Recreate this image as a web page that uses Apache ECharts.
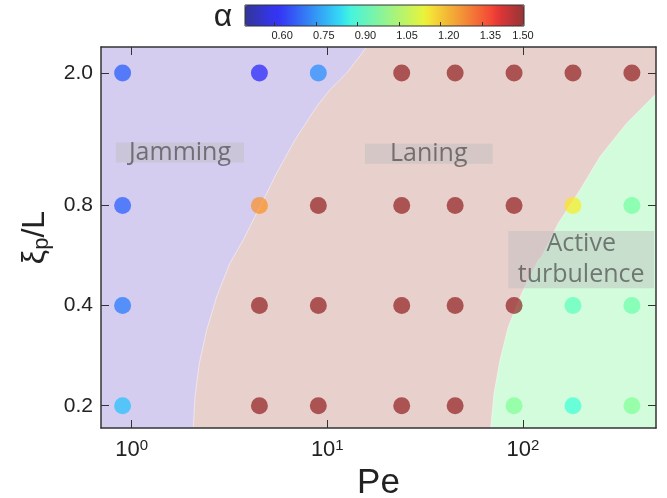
<!DOCTYPE html>
<html><head><meta charset="utf-8">
<script src="https://cdn.jsdelivr.net/npm/echarts@6/dist/echarts.min.js"></script>
<style>html,body{margin:0;padding:0;background:#fff}#c{width:667px;height:498px}</style>
</head><body><div id="c"></div>
<script>
// ---- data ----
const peValues = [0.9, 4.5, 9, 24, 45, 90, 180, 360];
const xiValues = [2.0, 0.8, 0.4, 0.2];
const alphaXi20 = [0.685, 0.61, 0.745, 1.5, 1.5, 1.5, 1.5, 1.5];
const alphaXi08 = [0.69, 1.27, 1.5, 1.5, 1.5, 1.5, 1.16, 0.965];
const alphaXi04 = [0.72, 1.5, 1.5, 1.5, 1.5, 1.5, 0.927, 0.952];
const alphaXi02 = [0.81, 1.5, 1.5, 1.5, 1.5, 0.982, 0.887, 0.982];
const alphaRows = [alphaXi20, alphaXi08, alphaXi04, alphaXi02];

// phase boundaries [Pe, xi_p/L]
const jammingBoundary = [[15.9, 2.395], [12.57, 2.0], [10.32, 1.782], [8.83, 1.587], [6.84, 1.259], [5.51, 1.0], [4.53, 0.793], [3.72, 0.630], [3.18, 0.536], [2.72, 0.425], [2.42, 0.3375], [2.218, 0.268], [2.109, 0.2126], [2.067, 0.1714]];
const turbulenceBoundary = [[478, 1.733], [338.8, 1.414], [247.5, 1.122], [195.6, 0.8906], [151.5, 0.707], [124.6, 0.561], [119.7, 0.548], [98.5, 0.4352], [84.1, 0.3452], [76.3, 0.2742], [71.1, 0.2177], [68.4, 0.1714]];

// region label boxes [Pe1, xi1, Pe2, xi2, text]
const regionLabels = [
  [0.832, 1.236, 3.752, 1.076, 'Jamming'],
  [15.58, 1.225, 69.9, 1.067, 'Laning'],
  [84.1, 0.6705, 467, 0.4506, 'Active\nturbulence']
];

const peRange = [0.698, 478];
const xiRange = [0.1714, 2.395];
const alphaRange = [0.495, 1.5];
const xTicks = [1, 10, 100];
const yTicks = [0.2, 0.4, 0.8, 2.0];
const cbTicks = [0.60, 0.75, 0.90, 1.05, 1.20, 1.35, 1.50];

// ---- jet colormap ----
function jetRGB(t) {
  const f = (pts) => { for (let i = 0; i < pts.length - 1; i++) { const [x0, y0] = pts[i], [x1, y1] = pts[i + 1]; if (t <= x1) return y0 + (y1 - y0) * (t - x0) / (x1 - x0); } return pts[pts.length - 1][1]; };
  return [f([[0,0],[0.35,0],[0.66,1],[0.89,1],[1,0.5]]), f([[0,0],[0.125,0],[0.375,1],[0.64,1],[0.91,0],[1,0]]), f([[0,0.5],[0.11,1],[0.34,1],[0.65,0],[1,0]])];
}
const jetColors = [];
for (let i = 0; i <= 50; i++) { const c = jetRGB(i / 50).map(v => Math.round(v * 255)); jetColors.push(`rgba(${c[0]},${c[1]},${c[2]},0.75)`); }

const scatterData = [];
alphaRows.forEach((row, i) => row.forEach((a, j) => scatterData.push([peValues[j], xiValues[i], a])));

const FONT = '"Liberation Sans", Arial, sans-serif';
const LFONT = '"Open Sans", sans-serif';
const axisColor = '#333';

const chart = echarts.init(document.getElementById('c'), null, {renderer: 'canvas'});
const baseAxis = {
  type: 'log', splitLine: {show: false}, minorTick: {show: false}, minorSplitLine: {show: false},
  axisLine: {show: true, lineStyle: {color: axisColor, width: 1.5}}, z: 10
};
chart.setOption({
  animation: false,
  backgroundColor: '#fff',
  grid: [
    {left: 101, right: 11, top: 47, bottom: 70, show: true, backgroundColor: '#e8d0cc', borderWidth: 0, containLabel: false, outerBoundsMode: 'none'},
    {left: 245, width: 279, top: 5, height: 21, show: true, backgroundColor: 'transparent', borderColor: '#333', borderWidth: 1, z: 10, containLabel: false, outerBoundsMode: 'none'}
  ],
  xAxis: [
    Object.assign({}, baseAxis, {
      gridIndex: 0, position: 'bottom', min: peRange[0], max: peRange[1],
      axisTick: {show: true, inside: true, length: 8, customValues: xTicks, lineStyle: {color: axisColor}},
      axisLabel: {customValues: xTicks, margin: 10, formatter: v => '{b|10}{s|' + Math.round(Math.log10(v)) + '}',
        rich: {b: {fontSize: 22, fontFamily: FONT, color: '#222', lineHeight: 24}, s: {fontSize: 15, fontFamily: FONT, color: '#222', lineHeight: 14, verticalAlign: 'top'}}},
      name: 'Pe', nameLocation: 'middle', nameGap: 36, nameTextStyle: {fontSize: 35, fontFamily: FONT, color: '#222'}
    }),
    Object.assign({}, baseAxis, {
      gridIndex: 0, position: 'top', min: peRange[0], max: peRange[1],
      axisTick: {show: true, inside: true, length: 8, customValues: xTicks, lineStyle: {color: axisColor}},
      axisLabel: {show: false}
    }),
    {
      gridIndex: 1, type: 'value', min: alphaRange[0], max: alphaRange[1], position: 'bottom', z: 12,
      splitLine: {show: false}, axisLine: {show: false},
      axisTick: {show: true, inside: true, length: 4, customValues: cbTicks.slice(0, 6), lineStyle: {color: '#333'}},
      axisLabel: {customValues: cbTicks, margin: 4, color: '#222',
        formatter: v => (v >= 1.5 ? '{e|' : '{s|') + v.toFixed(2) + '}',
        rich: {s: {fontSize: 11, fontFamily: FONT, color: '#222', padding: [0, 0, 0, 16]}, e: {fontSize: 11, fontFamily: FONT, color: '#222', padding: [0, 2, 0, 0]}}}
    }
  ],
  yAxis: [
    Object.assign({}, baseAxis, {
      gridIndex: 0, position: 'left', min: xiRange[0], max: xiRange[1],
      axisTick: {show: true, inside: true, length: 8, customValues: yTicks, lineStyle: {color: axisColor}},
      axisLabel: {customValues: yTicks, margin: 8, fontSize: 21, fontFamily: FONT, color: '#222', formatter: v => v.toFixed(1)},
      name: '{a|ξ}{b|p}{a|/L}', nameLocation: 'middle', nameRotate: 90, nameGap: 38,
      nameTextStyle: {rich: {a: {fontSize: 32, fontFamily: FONT, color: '#222', lineHeight: 34, verticalAlign: 'top'}, b: {fontSize: 22, fontFamily: FONT, color: '#222', lineHeight: 22, padding: [16, 0, 0, 0], verticalAlign: 'bottom'}}}
    }),
    Object.assign({}, baseAxis, {
      gridIndex: 0, position: 'right', min: xiRange[0], max: xiRange[1],
      axisTick: {show: true, inside: true, length: 8, customValues: yTicks, lineStyle: {color: axisColor}},
      axisLabel: {show: false}
    }),
    {gridIndex: 1, type: 'value', show: false, min: 0, max: 1}
  ],
  visualMap: {
    type: 'continuous', min: alphaRange[0], max: alphaRange[1], orient: 'horizontal',
    left: 245, top: 5, itemWidth: 21, itemHeight: 279, calculable: false, text: null, showLabel: false,
    padding: 0, seriesIndex: 2, dimension: 2, inRange: {color: jetColors}, hoverLink: false, z: 4
  },
  graphic: [{type: 'text', x: 223, y: 17, z: 20, style: {text: 'α', fontSize: 32, fontFamily: FONT, fill: '#222', textAlign: 'center', textVerticalAlign: 'middle'}}],
  series: [
    {
      type: 'custom', xAxisIndex: 0, yAxisIndex: 0, data: [0], silent: true, z: 1,
      renderItem: (params, api) => {
        const jam = [[peRange[0], xiRange[1]]].concat(jammingBoundary, [[peRange[0], xiRange[0]]]).map(p => api.coord(p));
        const turb = turbulenceBoundary.concat([[peRange[1], xiRange[0]]]).map(p => api.coord(p));
        return {type: 'group', children: [
          {type: 'polygon', shape: {points: jam}, style: {fill: '#d5cdf0'}},
          {type: 'polygon', shape: {points: turb}, style: {fill: '#d3fcdc'}},
          {type: 'polyline', shape: {points: jammingBoundary.map(p => api.coord(p))}, style: {stroke: 'rgba(255,255,255,0.45)', lineWidth: 1, fill: null}},
          {type: 'polyline', shape: {points: turbulenceBoundary.map(p => api.coord(p))}, style: {stroke: 'rgba(255,255,255,0.45)', lineWidth: 1, fill: null}}
        ]};
      }
    },
    {
      type: 'custom', xAxisIndex: 0, yAxisIndex: 0, silent: true, z: 5,
      data: regionLabels.map(r => r.slice(0, 4)),
      renderItem: (params, api) => {
        const p1 = api.coord([api.value(0), api.value(1)]);
        const p2 = api.coord([api.value(2), api.value(3)]);
        const txt = regionLabels[params.dataIndex][4];
        return {type: 'group', children: [
          {type: 'rect', shape: {x: p1[0], y: p1[1], width: p2[0] - p1[0], height: p2[1] - p1[1]}, style: {fill: 'rgba(188,188,188,0.45)'}},
          {type: 'text', style: {text: txt, x: (p1[0] + p2[0]) / 2, y: (p1[1] + p2[1]) / 2, textAlign: 'center', textVerticalAlign: 'middle',
            fontFamily: LFONT, fontSize: 25, lineHeight: 31, fill: 'rgba(50,50,50,0.6)'}}
        ]};
      }
    },
    {
      type: 'scatter', xAxisIndex: 0, yAxisIndex: 0, data: scatterData, symbolSize: 17, z: 6,
      itemStyle: {borderWidth: 0}
    }
  ]
});
</script></body></html>
